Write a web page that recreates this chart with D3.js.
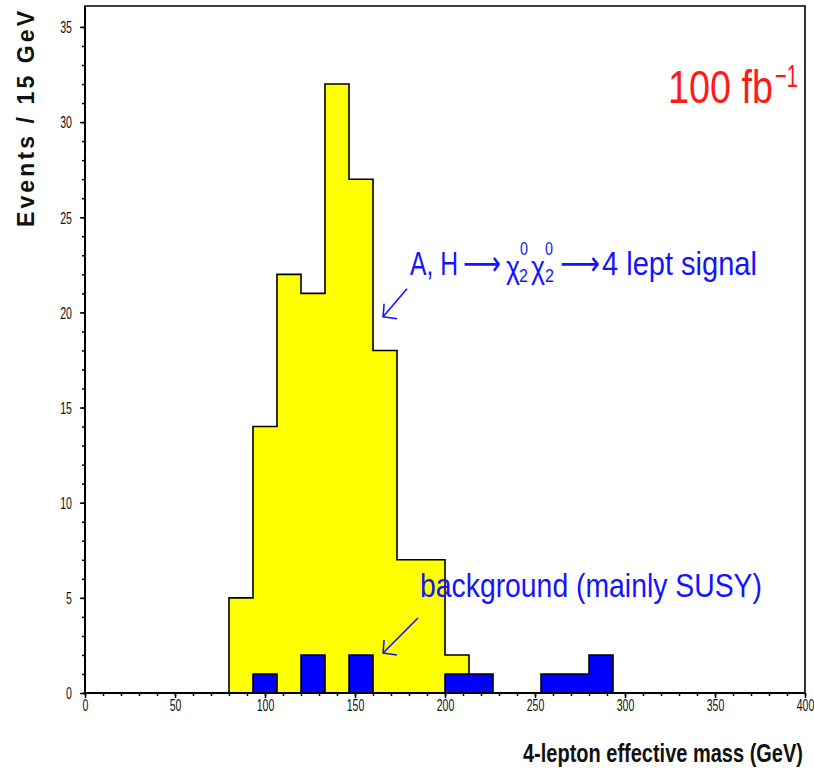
<!DOCTYPE html>
<html>
<head>
<meta charset="utf-8">
<script src="https://cdn.jsdelivr.net/npm/d3@7"></script>
<style>
  html, body { margin: 0; padding: 0; background: #ffffff; }
  svg { display: block; }
</style>
</head>
<body>
<svg id="chart" width="814" height="770"></svg>
<script>
// ---------------- data ----------------
const xMin = 0;
const xMax = 400;
const nBins = 30;               // 30 bins over 0-400 GeV
const signalCounts = [0, 0, 0, 0, 0, 0, 5, 14, 22, 21, 32, 27, 18, 7, 7,
                      2, 0, 0, 0, 0, 0, 0, 0, 0, 0, 0, 0, 0, 0, 0];
const backgroundCounts = [0, 0, 0, 0, 0, 0, 0, 1, 0, 2, 0, 2, 0, 0, 0,
                          1, 1, 0, 0, 1, 1, 2, 0, 0, 0, 0, 0, 0, 0, 0];
const xTickValues = [0, 50, 100, 150, 200, 250, 300, 350, 400];
const yTickValues = [0, 5, 10, 15, 20, 25, 30, 35];
const yMax = 36.1;
const xTitle = "4-lepton effective mass (GeV)";
const yTitle = "Events / 15 GeV";
const lumiText = "100 fb";
const lumiExp = "\u22121";
const signalLabel = "4 lept signal";
const backgroundLabel = "background (mainly SUSY)";
// annotation arrows in data coordinates [tail, tip]
const signalArrow = [[178.9, 21.24], [165.6, 19.77]];
const backgroundArrow = [[185.0, 3.94], [165.6, 2.10]];

// ---------------- layout ----------------
const plotL = 85, plotR = 805, plotT = 6, plotB = 693;
const svg = d3.select("#chart");
const x = d3.scaleLinear().domain([xMin, xMax]).range([plotL, plotR]);
const y = d3.scaleLinear().domain([0, yMax]).range([plotB, plotT]);
const binW = (xMax - xMin) / nBins;

function stepPoints(counts) {
  const pts = [[xMin, 0]];
  counts.forEach((c, i) => {
    const x0 = xMin + i * binW;
    pts.push([x0, c], [x0 + binW, c]);
  });
  pts.push([xMax, 0]);
  return pts;
}

const area = d3.area().x(d => x(d[0])).y0(y(0)).y1(d => y(d[1]));
const line = d3.line().x(d => x(d[0])).y(d => y(d[1]));

// signal histogram (yellow)
const sigPts = stepPoints(signalCounts);
svg.append("path").attr("d", area(sigPts)).attr("fill", "#ffff00");
svg.append("path").attr("d", line(sigPts)).attr("fill", "none")
  .attr("stroke", "#000").attr("stroke-width", 1.6);

// background histogram (blue)
const bkgPts = stepPoints(backgroundCounts);
svg.append("path").attr("d", area(bkgPts)).attr("fill", "#0000ff");
svg.append("path").attr("d", line(bkgPts)).attr("fill", "none")
  .attr("stroke", "#000").attr("stroke-width", 1.6);

// ---------------- axes ----------------
const tickFont = "'Liberation Sans', Arial, sans-serif";
const sx = 0.66;

const gxMinor = svg.append("g").attr("transform", `translate(0,${plotB})`)
  .call(d3.axisBottom(x).tickValues(d3.range(xMin, xMax + 1, 10)).tickSize(3).tickFormat(""));
const gx = svg.append("g").attr("transform", `translate(0,${plotB})`)
  .call(d3.axisBottom(x).tickValues(xTickValues).tickSize(5).tickFormat(d3.format("d")));
[gxMinor, gx].forEach(g => {
  g.select(".domain").remove();
  g.selectAll("line").attr("stroke", "#000").attr("stroke-width", 1.5);
});
gx.selectAll("text")
  .attr("font-family", tickFont).attr("font-size", 16).attr("fill", "#111")
  .attr("y", 7).attr("dy", "0.71em")
  .attr("transform", `scale(${sx},1)`);

const gyMinor = svg.append("g").attr("transform", `translate(${plotL},0)`)
  .call(d3.axisLeft(y).tickValues(d3.range(0, 36, 1)).tickSize(3).tickFormat(""));
const gy = svg.append("g").attr("transform", `translate(${plotL},0)`)
  .call(d3.axisLeft(y).tickValues(yTickValues).tickSize(5).tickFormat(d3.format("d")));
[gyMinor, gy].forEach(g => {
  g.select(".domain").remove();
  g.selectAll("line").attr("stroke", "#000").attr("stroke-width", 1.5);
});
gy.selectAll("text")
  .attr("font-family", tickFont).attr("font-size", 16).attr("fill", "#111")
  .attr("x", -13 / sx).attr("dy", "0.36em")
  .attr("transform", `scale(${sx},1)`);

// frame
svg.append("path")
  .attr("d", `M${plotL},${plotB}V${plotT}H${plotR}V${plotB}`)
  .attr("fill", "none").attr("stroke", "#000").attr("stroke-width", 1.6);
svg.append("line").attr("x1", plotL).attr("x2", plotR).attr("y1", plotB).attr("y2", plotB)
  .attr("stroke", "#000").attr("stroke-width", 2);
svg.append("line").attr("x1", plotL).attr("x2", plotL).attr("y1", plotT).attr("y2", plotB)
  .attr("stroke", "#000").attr("stroke-width", 2);

// helper: text horizontally condensed to an exact width
function fitText(str, px, py, opts) {
  const t = svg.append("text")
    .attr("font-family", opts.family || "'Liberation Sans', Arial, sans-serif")
    .attr("font-size", opts.size)
    .attr("font-weight", opts.weight || "normal")
    .attr("fill", opts.fill || "#000")
    .text(str);
  const natural = t.node().getComputedTextLength();
  const k = opts.width ? opts.width / natural : 1;
  t.attr("transform", `translate(${px},${py}) scale(${k},1)`);
  return t;
}

// ---------------- titles ----------------
svg.append("text")
  .attr("transform", "translate(34,119) rotate(-90)")
  .attr("text-anchor", "middle")
  .attr("font-family", "'Liberation Sans', Arial, sans-serif")
  .attr("font-weight", "bold").attr("font-size", 23)
  .attr("textLength", 216).attr("lengthAdjust", "spacing")
  .attr("fill", "#111")
  .text(yTitle);

fitText(xTitle, 523, 762, { size: 26, weight: "bold", width: 280, fill: "#111" });

// ---------------- luminosity ----------------
const red = "#ff1a1a";
fitText(lumiText, 668, 103, { size: 47, width: 105, fill: red });
fitText(lumiExp, 775, 87, { size: 32, width: 23, fill: red });

// ---------------- annotations ----------------
const blue = "#1414ff";
// signal label: A, H -> chi chi -> 4 lept signal
fitText("A, H", 410, 275, { size: 34, width: 48, fill: blue });
fitText("\u27F6", 463, 275, { size: 34, width: 38, fill: blue, family: "'DejaVu Sans', sans-serif" });
fitText("\u03C7", 506, 278, { size: 32, width: 14, fill: blue });
fitText("2", 519, 282, { size: 18, width: 9, fill: blue });
fitText("0", 520, 255, { size: 18, width: 8, fill: blue });
fitText("\u03C7", 531, 278, { size: 32, width: 14, fill: blue });
fitText("2", 545, 282, { size: 18, width: 9, fill: blue });
fitText("0", 545, 255, { size: 18, width: 8, fill: blue });
fitText("\u27F6", 560, 275, { size: 34, width: 40, fill: blue, family: "'DejaVu Sans', sans-serif" });
fitText(signalLabel, 602, 275, { size: 34, width: 155, fill: blue });

fitText(backgroundLabel, 420, 597, { size: 34, width: 342, fill: blue });

function arrow(a) {
  const [t0, t1] = a;
  const X0 = x(t0[0]), Y0 = y(t0[1]), X1 = x(t1[0]), Y1 = y(t1[1]);
  const g = svg.append("g").attr("stroke", blue).attr("stroke-width", 1.6).attr("fill", "none");
  g.append("line").attr("x1", X0).attr("y1", Y0).attr("x2", X1).attr("y2", Y1);
  g.append("path").attr("d", `M${X1 + 1},${Y1 - 13}L${X1},${Y1}L${X1 + 14},${Y1 + 2}`);
}
arrow(signalArrow);
arrow(backgroundArrow);
</script>
</body>
</html>
